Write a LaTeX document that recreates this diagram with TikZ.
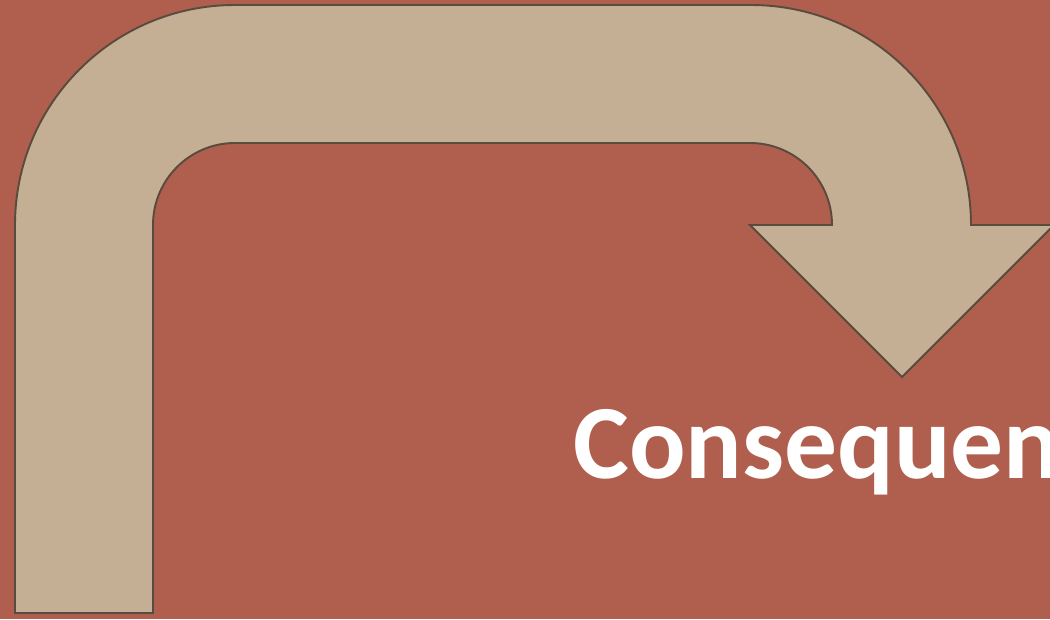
\documentclass[tikz,border=0pt]{standalone}
\usepackage{fontspec}
\setmainfont{Carlito}
\usetikzlibrary{positioning}
\definecolor{brick}{HTML}{B05F4E}
\definecolor{sand}{HTML}{C5AF94}
\definecolor{umber}{HTML}{594C3E}
\tikzset{
  bentarrow/.style={draw=umber,fill=sand,line width=1.1pt,line join=miter},
  headline/.style={font=\fontsize{60}{72}\selectfont\bfseries,text=white,
                   anchor=base west,inner sep=0pt},
}
\begin{document}
\begin{tikzpicture}[x=0.02cm,y=0.02cm]
  \fill[brick] (0,0) rectangle (1050,619);
  \useasboundingbox (0,0) rectangle (1050,619);
  \clip (0,0) rectangle (1050,619);
  % bent arrow, shaft up, over and down into the head
  \draw[bentarrow] (15,6) -- (15,394)
      arc[start angle=180,end angle=90,radius=220] -- (751,614)
      arc[start angle=90,end angle=0,radius=220] -- (1054,394)
      -- (902,242) -- (750,394) -- (832,394)
      arc[start angle=0,end angle=90,radius=82] -- (235,476)
      arc[start angle=90,end angle=180,radius=82] -- (153,6) -- cycle;
  \node[headline] (consequen) at (573,141) {Consequen};
\end{tikzpicture}
\end{document}
